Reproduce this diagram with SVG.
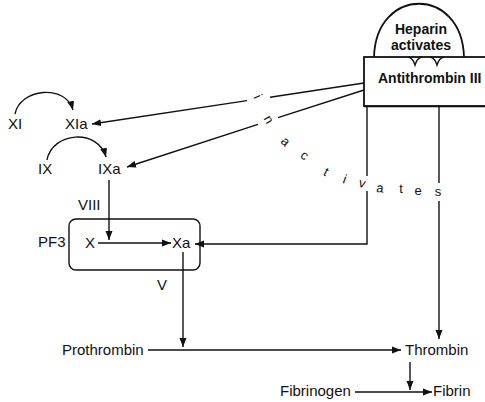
<svg xmlns="http://www.w3.org/2000/svg" width="485" height="402" viewBox="0 0 485 402">
  <style>
    .lbl { font-family: "Liberation Sans", Arial, Helvetica, sans-serif; font-size: 15px; fill: #111; }
    .hvy { font-family: "Liberation Sans", Arial, Helvetica, sans-serif; font-size: 14px; font-weight: bold; fill: #111; }
    .word { font-family: "Liberation Sans", Arial, Helvetica, sans-serif; font-size: 13px; fill: #111; }
    .ln { fill: none; stroke: #111; stroke-width: 1.4; }
    .arr { fill: none; stroke: #111; stroke-width: 1.4; marker-end: url(#head); }
    .box { fill: #fff; stroke: #111; stroke-width: 1.8; }
  </style>
  <defs>
    <marker id="head" markerUnits="userSpaceOnUse" markerWidth="10" markerHeight="8" refX="9" refY="4" orient="auto">
      <path d="M0,0.5 L9,4 L0,7.5 z" fill="#111"/>
    </marker>
  </defs>

  <rect width="485" height="402" fill="#fff"/>

  <!-- Antithrombin III with heparin dome -->
  <g id="antithrombin">
    <path class="box" d="M374 57 C376 -14, 462 -14, 464 57"/>
    <rect class="box" x="364" y="57" width="130" height="49"/>
    <path class="ln" d="M364 106.5 H486" stroke-width="2.6"/>
    <path class="ln" d="M408 57 Q413 58 415 65 Q417 58 422 57 M430 57 Q435 58 437 65 Q439 58 444 57"/>
    <text class="hvy" x="421" y="34" text-anchor="middle">Heparin</text>
    <text class="hvy" x="421" y="50" text-anchor="middle">activates</text>
    <text class="hvy" x="378" y="83">Antithrombin III</text>
  </g>

  <g id="xi"><text class="lbl" x="8" y="129">XI</text></g>
  <g id="xia"><text class="lbl" x="65" y="129">XIa</text></g>
  <g id="ix"><text class="lbl" x="38" y="174">IX</text></g>
  <g id="ixa"><text class="lbl" x="98" y="174">IXa</text></g>
  <g id="viii"><text class="lbl" x="78" y="210">VIII</text></g>

  <!-- phospholipid complex -->
  <g id="pf3">
    <rect class="ln" x="69" y="219" width="131" height="51" rx="7" stroke-width="1.6"/>
    <text class="lbl" x="38" y="247">PF3</text>
  </g>
  <g id="x"><text class="lbl" x="85" y="248">X</text></g>
  <g id="xa"><text class="lbl" x="172" y="248">Xa</text></g>
  <g id="v"><text class="lbl" x="157" y="290">V</text></g>

  <g id="prothrombin"><text class="lbl" x="62" y="355">Prothrombin</text></g>
  <g id="thrombin"><text class="lbl" x="405" y="355">Thrombin</text></g>
  <g id="fibrinogen"><text class="lbl" x="280" y="396">Fibrinogen</text></g>
  <g id="fibrin"><text class="lbl" x="433" y="396">Fibrin</text></g>

  <g id="connectors">
    <!-- activation loops -->
    <path class="arr" d="M15 114 C20 88, 66 84, 73 110"/>
    <path class="arr" d="M47 160 C52 132, 98 128, 106 157"/>
    <!-- inhibition lines from antithrombin -->
    <path class="ln" d="M364 83 L270 97.2"/>
    <path class="arr" d="M247 100.6 L92 124"/>
    <path class="ln" d="M364 90 L278 117.7"/>
    <path class="arr" d="M258 124.3 L127 167"/>
    <path class="ln" d="M367 107 V176"/>
    <path class="arr" d="M367 191 V244 H195"/>
    <path class="ln" d="M439 107 V183"/>
    <path class="arr" d="M439 201 V339"/>
    <!-- cascade -->
    <path class="arr" d="M109 180 V240"/>
    <path class="arr" d="M98 243 H171"/>
    <path class="arr" d="M183 252 V347"/>
    <path class="arr" d="M148 350 H401"/>
    <path class="arr" d="M410 362 V390"/>
    <path class="arr" d="M355 392 H432"/>
  </g>

  <g id="inactivates-label">
    <text class="word" x="253.3 263.3 280 299.4 322.5 342.1 358 376.1 399.2 414.4 434.7" y="97.1 118.6 141.9 156.7 174.7 182.7 186.4 192.1 193 195.4 196.4" rotate="65 60 45 38 28 20 15 5 0 0 0">inactivates</text>
  </g>
</svg>
